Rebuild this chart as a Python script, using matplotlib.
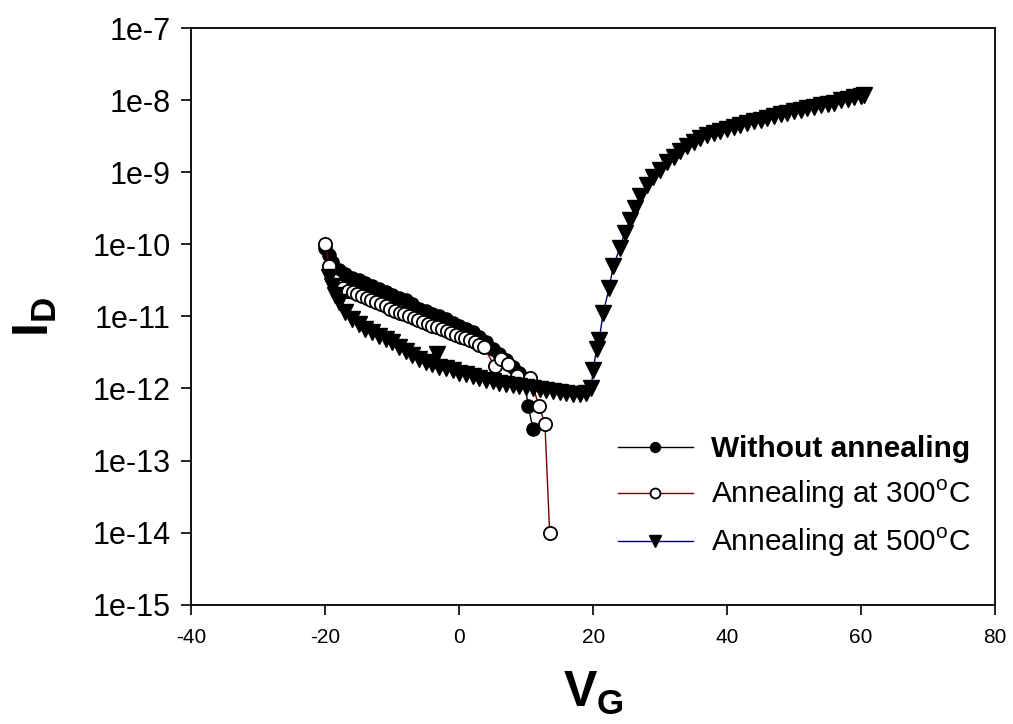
import numpy as np
import matplotlib
matplotlib.use('Agg')
import matplotlib.pyplot as plt

plt.rcParams['font.family'] = ['Liberation Sans', 'DejaVu Sans']
plt.rcParams['mathtext.fontset'] = 'custom'
plt.rcParams['mathtext.rm'] = 'Liberation Sans'
plt.rcParams['mathtext.bf'] = 'Liberation Sans:bold'

# gate voltage (V) and log10 of drain current (A)
vg_none = [-20, -19.5, -19, -18, -17, -16, -15, -14, -13, -12, -11, -10, -9, -8, -7, -6,
           -5, -4, -3, -2, -1, 0, 1, 2, 3, 4, 5, 6, 7, 8, 9, 9.7, 10.3, 11.0]
logi_none = [-10.05, -10.15, -10.25, -10.35, -10.41, -10.46, -10.50, -10.54, -10.58, -10.62,
             -10.66, -10.70, -10.74, -10.77, -10.83, -10.89, -10.93, -10.96, -11.00, -11.04,
             -11.09, -11.13, -11.17, -11.21, -11.28, -11.36, -11.45, -11.52, -11.60, -11.70,
             -11.78, -11.87, -12.24, -12.56]

vg_300 = [-20, -19.4, -18.7, -18.0, -17.3, -16.6, -15.9, -15.2, -14.5, -13.8, -13.1, -12.4,
          -11.7, -11.0, -10.3, -9.6, -8.9, -8.2, -7.5, -6.8, -6.1, -5.4, -4.7, -4.0, -3.3,
          -2.6, -1.9, -1.2, -0.5, 0.2, 0.9, 1.6, 2.3, 3.0, 3.7, 5.3, 6.3, 7.3, 8.6, 10.6,
          11.9, 12.8, 13.5]
logi_300 = [-9.99, -10.30, -10.50, -10.58, -10.61, -10.64, -10.66, -10.69, -10.71, -10.74,
            -10.77, -10.80, -10.83, -10.86, -10.89, -10.92, -10.95, -10.97, -11.00, -11.02,
            -11.05, -11.08, -11.10, -11.13, -11.15, -11.18, -11.20, -11.23, -11.26, -11.28,
            -11.30, -11.33, -11.36, -11.39, -11.43, -11.69, -11.59, -11.66, -11.83, -11.85,
            -12.24, -12.49, -14.00]

vg_500 = [-19.5, -19, -18.5, -18, -17, -16, -15, -14, -13, -12, -11, -10, -9, -8, -7, -6, -5, -4,
          -3.3, -3, -2, -1, 0, 1, 2, 3, 4, 5, 6, 7, 8, 9, 10, 11, 12, 13, 14, 15, 16, 17, 18,
          19, 19.7, 20.0, 20.5, 20.9, 21.5, 22.4, 23.0, 24.0, 24.7, 25.5, 26.2, 27, 28, 29, 30,
          31, 32, 33, 34, 35, 36, 37, 38, 39, 40, 41, 42, 43, 44, 45, 46, 47, 48, 49, 50, 51,
          52, 53, 54, 55, 56, 57, 58, 59, 60, 60.5]
logi_500 = [-10.45, -10.58, -10.70, -10.80, -10.94, -11.04, -11.11, -11.17, -11.22, -11.27, -11.31,
            -11.36, -11.42, -11.48, -11.54, -11.59, -11.63, -11.66, -11.52, -11.70, -11.72,
            -11.75, -11.78, -11.80, -11.83, -11.86, -11.88, -11.90, -11.92, -11.94, -11.95,
            -11.96, -11.98, -11.99, -12.01, -12.02, -12.04, -12.05, -12.06, -12.07, -12.08,
            -12.06, -11.99, -11.75, -11.45, -11.32, -10.95, -10.60, -10.30, -10.05, -9.84,
            -9.66, -9.50, -9.33, -9.17, -9.06, -8.96, -8.86, -8.78, -8.70, -8.64, -8.58,
            -8.52, -8.48, -8.45, -8.42, -8.40, -8.37, -8.34, -8.31, -8.29, -8.27, -8.24,
            -8.22, -8.19, -8.17, -8.15, -8.13, -8.11, -8.09, -8.07, -8.05, -8.03, -8.00,
            -7.98, -7.96, -7.94, -7.92]

labels = ['Without annealing', r'Annealing at 300$^{\mathrm{o}}$C', r'Annealing at 500$^{\mathrm{o}}$C']
yticks = [1e-15, 1e-14, 1e-13, 1e-12, 1e-11, 1e-10, 1e-9, 1e-8, 1e-7]
ytick_labels = ['1e-15', '1e-14', '1e-13', '1e-12', '1e-11', '1e-10', '1e-9', '1e-8', '1e-7']
xticks = [-40, -20, 0, 20, 40, 60, 80]

fig = plt.figure(figsize=(10.13, 7.24), dpi=100)
ax = fig.add_axes([0.1889, 0.1649, 0.7933, 0.7960])

ax.plot(vg_none, 10.0 ** np.array(logi_none), color='black', lw=1.0,
        marker='o', ms=9.5, mfc='black', mec='black', label=labels[0])
ax.plot(vg_300, 10.0 ** np.array(logi_300), color='#7a0000', lw=1.0,
        marker='o', ms=9.5, mfc='white', mec='black', mew=1.3, label=labels[1])
ax.plot(vg_500, 10.0 ** np.array(logi_500), color='#000070', lw=1.0,
        marker='v', ms=11, mfc='black', mec='black', label=labels[2])

ax.set_yscale('log')
ax.set_xlim(-40, 80)
ax.set_ylim(1e-15, 1e-7)
ax.set_yticks(yticks)
ax.set_yticklabels(ytick_labels, fontsize=22)
ax.yaxis.set_minor_locator(matplotlib.ticker.NullLocator())
ax.set_xticks(xticks)
ax.set_xticklabels([str(t) for t in xticks], fontsize=15,
                   family=['Liberation Sans Narrow', 'Liberation Sans'])
ax.tick_params(direction='out', length=7, width=1.2, pad=8)
ax.tick_params(axis='x', pad=10)
for s in ax.spines.values():
    s.set_linewidth(1.3)

ax.set_xlabel(r'$\mathbf{V_G}$', fontsize=36, labelpad=16)
ax.set_ylabel(r'$\mathbf{I_D}$', fontsize=36, labelpad=24)

leg = ax.legend(loc='upper left', bbox_to_anchor=(0.505, 0.33), frameon=False,
                fontsize=21.5, handlelength=2.5, handletextpad=0.6, labelspacing=0.5,
                borderpad=0.2, markerscale=0.75)
leg.get_texts()[0].set_fontweight('bold')

fig.savefig('out.png', dpi=100)
